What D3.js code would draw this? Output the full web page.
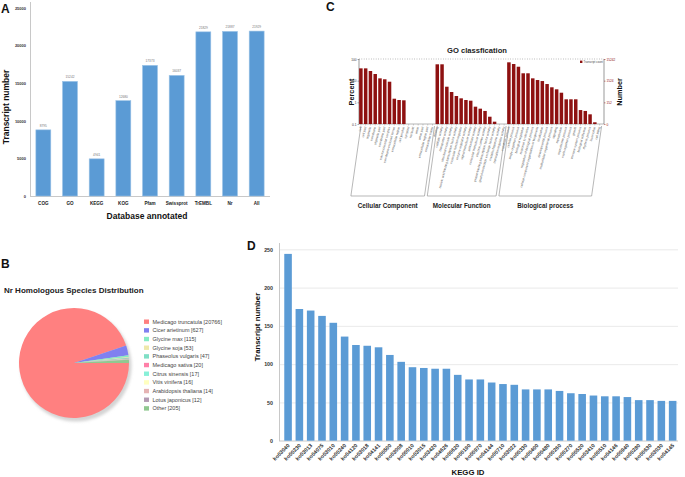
<!DOCTYPE html>
<html>
<head>
<meta charset="UTF-8">
<title>Annotation figure</title>
<script src="https://cdn.jsdelivr.net/npm/d3@7/dist/d3.min.js"></script>
<style>
body { margin: 0; background: #fff; }
svg { display: block; font-family: "Liberation Sans", Arial, sans-serif; }
</style>
</head>
<body>
<div id="fig"></div>
<script>
// panel A: database annotation
var dbNames = ["COG", "GO", "KEGG", "KOG", "Pfam", "Swissprot", "TrEMBL", "Nr", "All"];
var dbCounts = [8795, 15242, 4941, 12680, 17373, 16037, 21829, 21887, 21929];

// panel B: Nr species
var species = ["Medicago truncatula", "Cicer arietinum", "Glycine max", "Glycine soja", "Phaseolus vulgaris",
	"Medicago sativa", "Citrus sinensis", "Vitis vinifera", "Arabidopsis thaliana", "Lotus japonicus", "Other"];
var speciesCounts = [20766, 627, 115, 53, 47, 20, 17, 16, 14, 12, 205];
var speciesColors = ["#ff8080", "#8080f0", "#86ecc4", "#eee8aa", "#7fdfc5", "#ff80a8", "#88f0d8", "#ffffc0", "#e6b4b4", "#b49bb4", "#90c890"];

// panel C: GO classification (percent)
var ccTerms = ["cell", "cell part", "organelle", "membrane", "organelle part", "membrane part", "macromolecular complex",
	"membrane-enclosed lumen", "extracellular region", "cell junction", "symplast", "nucleoid", "virion", "virion part",
	"extracellular region part", "extracellular matrix"];
var ccPct = [37, 37, 27.9, 20.3, 12.8, 11.6, 8.95, 1.47, 1.28, 1.24, 0, 0, 0, 0, 0, 0];
var mfTerms = ["binding", "catalytic activity", "transporter activity", "structural molecule activity",
	"nucleic acid binding transcription factor activity", "molecular function regulator", "enzyme regulator activity",
	"signal transducer activity", "antioxidant activity", "molecular transducer activity", "electron carrier activity",
	"protein binding transcription factor activity", "guanyl-nucleotide exchange factor activity",
	"metallochaperone activity", "translation regulator activity"];
var mfPct = [56.9, 56.9, 5.26, 3.0, 1.96, 1.53, 1.28, 1.19, 0.63, 0.51, 0.40, 0.217, 0.128, 0, 0];
var bpTerms = ["metabolic process", "cellular process", "single-organism process", "biological regulation",
	"response to stimulus", "regulation of biological process", "cellular component organization or biogenesis",
	"localization", "developmental process", "multicellular organismal process", "signaling", "reproduction",
	"reproductive process", "multi-organism process", "growth", "immune system process", "biological adhesion",
	"rhythmic process", "locomotion", "cell killing"];
var bpPct = [70.3, 58.7, 44, 21.9, 21.9, 12.8, 10.7, 9.6, 7.0, 4.94, 3.99, 2.78, 1.38, 1.38, 1.38, 0.44, 0.40, 0.28, 0.12, 0];
var pctTicks = [0.1, 1, 10, 100];
var pctTickLabels = ["0.1", "1", "10", "100"];
var numTickLabels = ["0", "152", "1524", "15242"];

// panel D: KEGG pathways
var keggIds = ["ko03040", "ko00230", "ko03013", "ko04075", "ko03010", "ko00240", "ko04120", "ko03018", "ko04141",
	"ko00500", "ko03008", "ko00010", "ko03015", "ko03420", "ko04626", "ko00620", "ko00190", "ko00970", "ko04144",
	"ko00710", "ko03022", "ko00330", "ko00400", "ko00480", "ko00260", "ko00270", "ko00520", "ko03410", "ko00510",
	"ko04146", "ko00940", "ko00280", "ko00630", "ko03030", "ko04145"];
var keggCounts = [244, 172, 170, 163, 154, 136, 125, 124, 122, 112, 103, 96, 95, 94, 94, 86, 80, 80, 76, 74, 73,
	67, 67, 67, 65, 62, 61, 59, 58, 58, 57, 53, 53, 52, 52];

var blue = "#5b9bd5";
var darkRed = "#8e1111";

var svg = d3.select("#fig").append("svg").attr("width", 685).attr("height", 477);

var label = function(g, txt, x, y, size, opts) {
	opts = opts || {};
	var t = g.append("text").attr("x", x).attr("y", y).text(txt)
		.attr("font-size", size).attr("font-weight", opts.weight || "bold")
		.attr("fill", opts.fill || "#111").attr("text-anchor", opts.anchor || "start");
	if (opts.rotate !== undefined) t.attr("transform", "rotate(" + opts.rotate + "," + x + "," + y + ")");
	return t;
};

// ---------------- A ----------------
var gA = svg.append("g");
var xA = d3.scaleBand().domain(dbNames).range([30, 270]).paddingInner(0.44).paddingOuter(0.22);
var yA = d3.scaleLinear().domain([0, 25000]).range([196, 8]);

gA.append("line").attr("x1", 30.5).attr("x2", 30.5).attr("y1", 2).attr("y2", 196).attr("stroke", "#c8c8c8");
gA.append("line").attr("x1", 30).attr("x2", 270).attr("y1", 196.5).attr("y2", 196.5).attr("stroke", "#c8c8c8");

var axA = gA.append("g").attr("transform", "translate(30,0)")
	.call(d3.axisLeft(yA).tickValues(d3.range(0, 25001, 5000)).tickFormat(d3.format("d")).tickSize(0).tickPadding(4));
axA.select(".domain").remove();
axA.selectAll("text").attr("font-size", 4).attr("font-weight", "bold").attr("fill", "#333").attr("font-family", null);

gA.selectAll("rect.bar").data(dbCounts).enter().append("rect").attr("class", "bar")
	.attr("x", function(d, i) { return xA(dbNames[i]); })
	.attr("width", xA.bandwidth())
	.attr("y", function(d) { return yA(d); })
	.attr("height", function(d) { return 196 - yA(d); })
	.attr("fill", blue).attr("stroke", "#9cc3e6").attr("stroke-width", 0.6);

gA.selectAll("text.val").data(dbCounts).enter().append("text").attr("class", "val")
	.attr("x", function(d, i) { return xA(dbNames[i]) + xA.bandwidth() / 2; })
	.attr("y", function(d) { return yA(d) - 3; })
	.attr("text-anchor", "middle").attr("font-size", 3.2).attr("fill", "#777")
	.text(function(d) { return d; });

gA.selectAll("text.cat").data(dbNames).enter().append("text").attr("class", "cat")
	.attr("x", function(d) { return xA(d) + xA.bandwidth() / 2; })
	.attr("y", 204.5).attr("text-anchor", "middle").attr("font-size", 4.6).attr("font-weight", "bold").attr("fill", "#222")
	.text(function(d) { return d; });

label(gA, "A", 1, 13, 12);
label(gA, "Transcript number", 8.5, 107, 8.5, { anchor: "middle", rotate: -90 });
label(gA, "Database annotated", 147, 218.5, 8.5, { anchor: "middle" });

// ---------------- C ----------------
var gC = svg.append("g");
var goTerms = ccTerms.concat(mfTerms, bpTerms);
var goPct = ccPct.concat(mfPct, bpPct);
var xC = d3.scaleBand().domain(d3.range(goTerms.length)).range([358.5, 602]).paddingInner(0.27).paddingOuter(0.135);
var yC = d3.scaleLog().domain([0.1, 100]).range([124, 59]);
var cx = function(i) { return xC(i) + xC.bandwidth() / 2; };

gC.append("line").attr("x1", 359).attr("x2", 604).attr("y1", 59).attr("y2", 59)
	.attr("stroke", "#777").attr("stroke-width", 0.6).attr("stroke-dasharray", "0.8,1.6");
gC.append("line").attr("x1", 359).attr("x2", 604).attr("y1", 124).attr("y2", 124).attr("stroke", "#888").attr("stroke-width", 0.6);
gC.append("line").attr("x1", 359).attr("x2", 359).attr("y1", 59).attr("y2", 124).attr("stroke", "#555").attr("stroke-width", 0.6);
gC.append("line").attr("x1", 604).attr("x2", 604).attr("y1", 59).attr("y2", 124).attr("stroke", "#555").attr("stroke-width", 0.6);

var axCL = gC.append("g").attr("transform", "translate(359,0)")
	.call(d3.axisLeft(yC).tickValues(pctTicks).tickSize(1.5).tickPadding(1)
		.tickFormat(function(d, i) { return pctTickLabels[i]; }));
axCL.select(".domain").remove();
axCL.selectAll("line").attr("stroke", "#555").attr("stroke-width", 0.5);
axCL.selectAll("text").attr("font-size", 3.2).attr("fill", "#333").attr("font-family", null);

var axCR = gC.append("g").attr("transform", "translate(604,0)")
	.call(d3.axisRight(yC).tickValues(pctTicks).tickSize(1.5).tickPadding(1)
		.tickFormat(function(d, i) { return numTickLabels[i]; }));
axCR.select(".domain").remove();
axCR.selectAll("line").attr("stroke", darkRed).attr("stroke-width", 0.5);
axCR.selectAll("text").attr("font-size", 3.2).attr("fill", darkRed).attr("font-family", null);

gC.selectAll("line.tk").data(goTerms).enter().append("line").attr("class", "tk")
	.attr("x1", function(d, i) { return cx(i); }).attr("x2", function(d, i) { return cx(i); })
	.attr("y1", 124).attr("y2", 125.5).attr("stroke", "#888").attr("stroke-width", 0.4);

// bars; empty categories get no bar
goPct.forEach(function(p, i) {
	if (p <= 0) return;
	gC.append("rect").attr("class", "go")
		.attr("x", xC(i)).attr("width", xC.bandwidth())
		.attr("y", yC(p)).attr("height", 124 - yC(p))
		.attr("fill", darkRed);
});

gC.selectAll("text.term").data(goTerms).enter().append("text").attr("class", "term")
	.attr("transform", function(d, i) { return "translate(" + (cx(i) + 0.8) + ",127) rotate(-75)"; })
	.attr("text-anchor", "end").attr("font-size", 3.1).attr("fill", "#555")
	.text(function(d) { return d; });

// legend
gC.append("rect").attr("x", 580).attr("y", 60.6).attr("width", 2.4).attr("height", 2.4).attr("fill", darkRed);
gC.append("text").attr("x", 583.5).attr("y", 62.8).attr("font-size", 2.7).attr("fill", "#444").text("Transcript count");

// group brackets
var groups = [
	{ name: "Cellular Component", from: 0, to: ccTerms.length - 1 },
	{ name: "Molecular Function", from: ccTerms.length, to: ccTerms.length + mfTerms.length - 1 },
	{ name: "Biological process", from: ccTerms.length + mfTerms.length, to: goTerms.length - 1 }
];
groups.forEach(function(g) {
	var x0 = cx(g.from), x1 = cx(g.to) + 2, shift = 10;
	gC.append("path")
		.attr("d", "M" + x0 + ",126 L" + (x0 - shift) + ",196 L" + (x1 - shift) + ",196 L" + x1 + ",126")
		.attr("fill", "none").attr("stroke", "#888").attr("stroke-width", 0.6);
	label(gC, g.name, (x0 + x1) / 2 - shift, 208, 6.3, { anchor: "middle", fill: "#222" });
});

label(gC, "C", 326, 11, 12);
label(gC, "GO classfication", 477, 53, 7.6, { anchor: "middle", fill: "#222" });
label(gC, "Percent", 353.5, 92, 7.3, { anchor: "middle", rotate: -90 });
label(gC, "Number", 622, 92, 7.3, { anchor: "middle", rotate: -90 });

// ---------------- B ----------------
var gB = svg.append("g");
var pieCx = 74, pieCy = 363, pieR = 55;
var defs = svg.append("defs");
defs.append("filter").attr("id", "blur").append("feGaussianBlur").attr("stdDeviation", 1.6);
gB.append("circle").attr("cx", pieCx + 2).attr("cy", pieCy + 3).attr("r", pieR + 0.5)
	.attr("fill", "#d4d4d4").attr("filter", "url(#blur)");

var pie = d3.pie().sort(null).value(function(d) { return d; })
	.startAngle(Math.PI / 2).endAngle(Math.PI / 2 + 2 * Math.PI);
var arc = d3.arc().innerRadius(0).outerRadius(pieR);
gB.append("g").attr("transform", "translate(" + pieCx + "," + pieCy + ")")
	.selectAll("path").data(pie(speciesCounts)).enter().append("path")
	.attr("d", arc).attr("fill", function(d, i) { return speciesColors[i]; });

var leg = gB.selectAll("g.leg").data(species).enter().append("g").attr("class", "leg")
	.attr("transform", function(d, i) { return "translate(144," + (321.7 + i * 8.67) + ")"; });
leg.append("rect").attr("x", 0).attr("y", -2.2).attr("width", 5).attr("height", 4.4)
	.attr("fill", function(d, i) { return speciesColors[i]; });
leg.append("text").attr("x", 8.5).attr("y", 1.9).attr("font-size", 5.5).attr("fill", "#444")
	.text(function(d, i) { return d + " [" + speciesCounts[i] + "]"; });

label(gB, "B", 1, 268, 12);
label(gB, "Nr Homologous Species Distribution", 4, 293, 8, { fill: "#222" });

// ---------------- D ----------------
var gD = svg.append("g");
var xD = d3.scaleBand().domain(keggIds).range([282.4, 678.3]).paddingInner(0.33).paddingOuter(0.165);
var yD = d3.scaleLinear().domain([0, 250]).range([440.7, 249.3]);

gD.selectAll("line.grid").data(yD.ticks(5).filter(function(d) { return d > 0; })).enter()
	.append("line").attr("class", "grid")
	.attr("x1", 279).attr("x2", 678).attr("y1", function(d) { return yD(d) + 0.5; }).attr("y2", function(d) { return yD(d) + 0.5; })
	.attr("stroke", "#e4e4e4").attr("stroke-width", 0.8);
gD.append("line").attr("x1", 279.5).attr("x2", 279.5).attr("y1", 243).attr("y2", 441).attr("stroke", "#c8c8c8");
gD.append("line").attr("x1", 279).attr("x2", 678).attr("y1", 441).attr("y2", 441).attr("stroke", "#c8c8c8");

var axD = gD.append("g").attr("transform", "translate(279,0)")
	.call(d3.axisLeft(yD).ticks(5).tickSize(0).tickPadding(6));
axD.select(".domain").remove();
axD.selectAll("text").attr("font-size", 5.3).attr("font-weight", "bold").attr("fill", "#333").attr("font-family", null);

gD.selectAll("rect.kegg").data(keggCounts).enter().append("rect").attr("class", "kegg")
	.attr("x", function(d, i) { return xD(keggIds[i]); })
	.attr("width", xD.bandwidth())
	.attr("y", function(d) { return yD(d); })
	.attr("height", function(d) { return 440.7 - yD(d); })
	.attr("fill", blue);

gD.selectAll("text.ko").data(keggIds).enter().append("text").attr("class", "ko")
	.attr("transform", function(d) { return "translate(" + (xD(d) + xD.bandwidth() / 2 + 2) + ",446) rotate(-45)"; })
	.attr("text-anchor", "end").attr("font-size", 5.4).attr("font-weight", "bold").attr("fill", "#333")
	.text(function(d) { return d; });

label(gD, "D", 247, 250, 12);
label(gD, "Transcript number", 259.5, 327, 7.8, { anchor: "middle", rotate: -90 });
label(gD, "KEGG ID", 468, 475, 7.8, { anchor: "middle" });
</script>
</body>
</html>
